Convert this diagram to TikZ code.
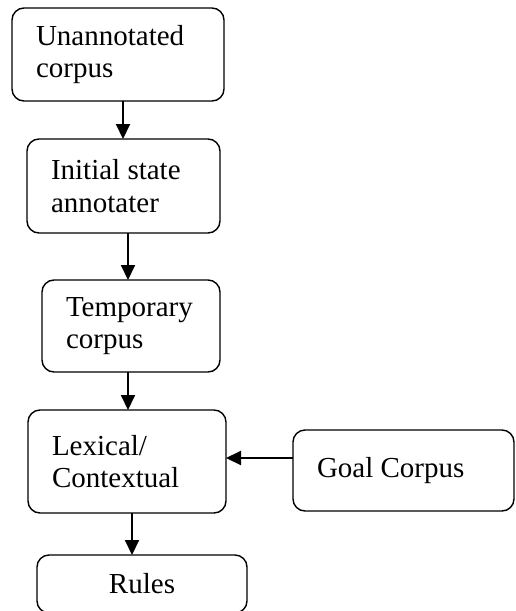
\documentclass[tikz,border=0pt]{standalone}
\usepackage{fontspec}
\setmainfont{Liberation Serif}
\usetikzlibrary{arrows.meta,positioning}
\hyphenpenalty=10000

\begin{document}
\begin{tikzpicture}[
  node distance=19pt,
  box/.style={draw, line width=0.7pt, rounded corners=6pt, align=flush left, inner xsep=12pt, inner ysep=2pt, outer sep=0pt, font=\fontsize{14.5pt}{16.25pt}\selectfont},
  arrow/.style={-{Triangle[length=7.5pt,width=7pt]}, line width=1pt}
]
  \useasboundingbox (0,0) rectangle (257.5pt,-305.5pt);

  \node[box, text width=82pt, minimum height=46.5pt] (raw) at (59pt,-27.25pt) {Unannotated\\corpus};
  \node[box, text width=72.5pt, minimum height=47pt, below=of raw, xshift=2.75pt] (init) {Initial state\\annotater};
  \node[box, text width=65pt, minimum height=46pt, below=23.5pt of init, xshift=3.75pt] (temp) {Temporary\\corpus};
  \node[box, text width=75pt, minimum height=51.5pt, below=of temp, xshift=-2pt] (lexctx) {Lexical/\\Contextual};
  \node[box, text width=86.5pt, minimum height=40.5pt, right=33.5pt of lexctx, yshift=-4.5pt] (goal) {Goal Corpus};
  \node[box, align=flush center, text width=81pt, minimum height=29pt, below=21pt of lexctx, xshift=7.5pt] (rules) {Rules};

  \draw[arrow] ([xshift=2.5pt]raw.south) -- ([xshift=2.5pt]raw.south |- init.north);
  \draw[arrow] ([xshift=2.25pt]init.south) -- ([xshift=2.25pt]init.south |- temp.north);
  \draw[arrow] ([xshift=-1.5pt]temp.south) -- ([xshift=-1.5pt]temp.south |- lexctx.north);
  \draw[arrow] ([xshift=2.5pt]lexctx.south) -- ([xshift=2.5pt]lexctx.south |- rules.north);
  \draw[arrow] ([yshift=6.25pt]goal.west) -- ([yshift=6.25pt]goal.west -| lexctx.east);
\end{tikzpicture}
\end{document}
